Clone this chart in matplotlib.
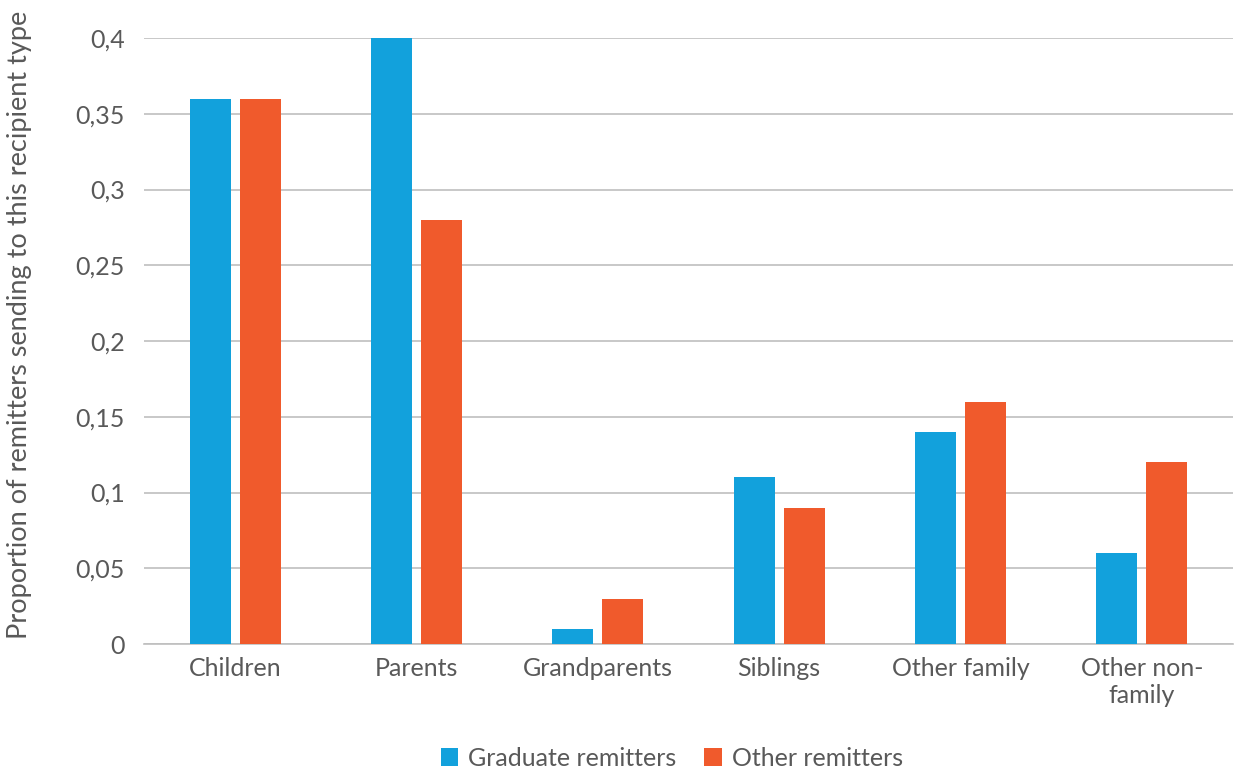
import matplotlib.pyplot as plt
import numpy as np

categories = ["Children", "Parents", "Grandparents", "Siblings", "Other family", "Other non-\nfamily"]
graduate = [0.36, 0.40, 0.01, 0.11, 0.14, 0.06]
other = [0.36, 0.28, 0.03, 0.09, 0.16, 0.12]
yticks = [0, 0.05, 0.1, 0.15, 0.2, 0.25, 0.3, 0.35, 0.4]
ylabels = ["0", "0,05", "0,1", "0,15", "0,2", "0,25", "0,3", "0,35", "0,4"]

plt.rcParams['font.family'] = ['Lato', 'DejaVu Sans']
grey = '#595959'

fig = plt.figure(figsize=(12.35, 7.69), dpi=100)
ax = fig.add_axes([0.117, 0.1625, 0.881, 0.788])

x = np.arange(len(categories))
w = 0.226
ax.bar(x - 0.138, graduate, w, color='#12A1DC', label='Graduate remitters', zorder=3)
ax.bar(x + 0.138, other, w, color='#F05A2C', label='Other remitters', zorder=3)

ax.set_xlim(-0.5, len(categories) - 0.5)
ax.set_ylim(0, 0.4)
ax.set_yticks(yticks)
ax.set_yticklabels(ylabels)
ax.set_xticks(x)
ax.set_xticklabels(categories, linespacing=1.25)
ax.tick_params(axis='both', length=0, labelsize=18, labelcolor=grey)
ax.tick_params(axis='y', pad=14)
ax.tick_params(axis='x', pad=9)
ax.grid(axis='y', color='#BFBFBF', linewidth=1.2, zorder=0)
for s in ['top', 'right', 'left']:
    ax.spines[s].set_visible(False)
ax.spines['bottom'].set_color('#BFBFBF')
ax.spines['bottom'].set_linewidth(1.2)

ax.set_ylabel('Proportion of remitters sending to this recipient type', fontsize=19.5, color=grey)
ax.yaxis.set_label_coords(-0.103, 0.526)

fig.legend(loc='lower center', bbox_to_anchor=(0.544, -0.03), ncol=2, frameon=False,
           fontsize=18, labelcolor=grey, handlelength=0.7, handleheight=0.7,
           handletextpad=0.4, columnspacing=1.1)

fig.savefig('out.png', dpi=100)
